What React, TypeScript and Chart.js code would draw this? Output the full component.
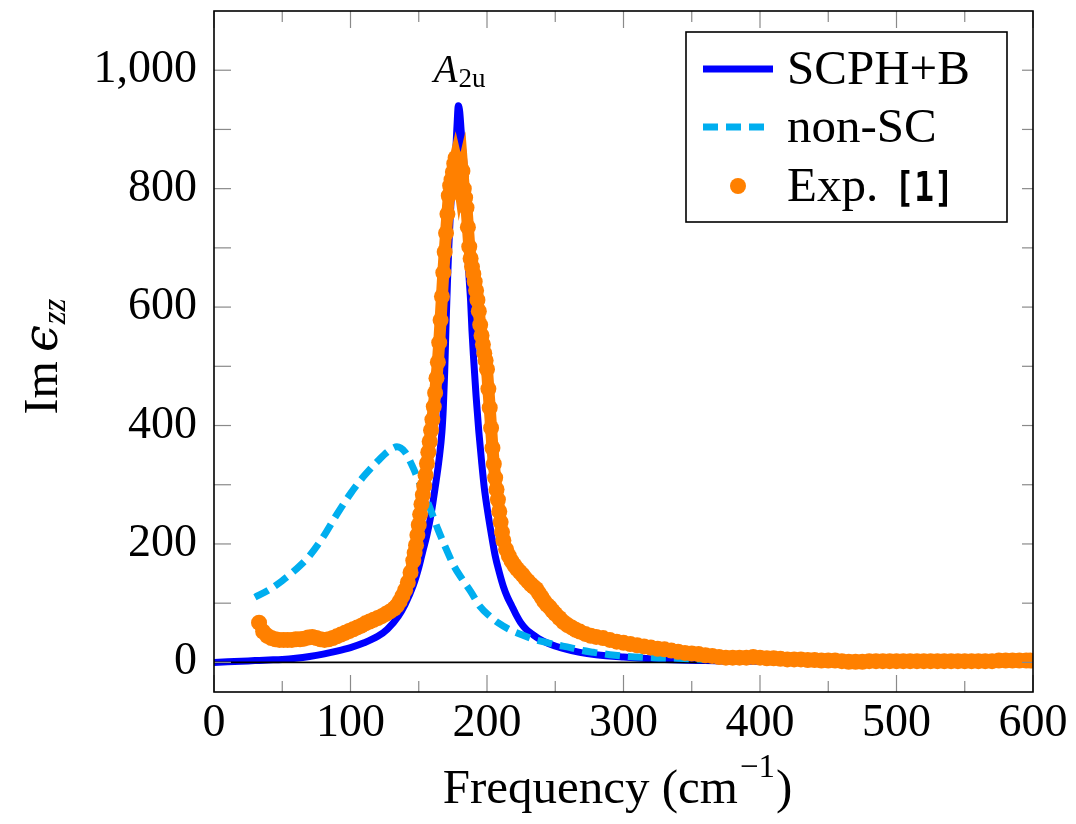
import React, { useEffect, useRef } from 'react';
import { Chart, registerables } from 'chart.js';

Chart.register(...registerables);

// ---------------- data ----------------
const X_TICKS = [0, 100, 200, 300, 400, 500, 600];
const X_MINOR = [50, 150, 250, 350, 450, 550];
const Y_TICKS = [0, 200, 400, 600, 800, 1000];
const Y_MINOR = [100, 300, 500, 700, 900];

const SERIES_NAMES = ['SCPH+B', 'non-SC', 'Exp. '];
const CITE = '[1]';
const PEAK_LABEL_POS = [180, 1000];

const scphX = [0, 10, 20, 30, 40, 50, 60, 70, 80, 90, 100, 110, 120, 127, 135, 140, 146, 150, 153, 156, 159, 162, 165, 167, 168, 169, 170, 171, 172, 173, 174, 175, 176, 177, 178, 179, 180, 181, 182, 183, 184, 185, 186, 187, 188, 189, 190, 191, 192, 193, 194, 196, 198, 200, 203, 206, 209, 212, 215, 218, 221, 225, 229, 233, 238, 245, 255, 268, 280, 300, 320, 340, 360, 380, 400, 450, 500, 550, 600];
const scphY = [0, 1, 2, 3, 4, 5, 7, 10, 14, 19, 25, 33, 44, 56, 78, 98, 130, 160, 188, 215, 250, 295, 345, 390, 430, 490, 570, 640, 700, 750, 790, 815, 835, 860, 905, 940, 930, 900, 870, 845, 790, 735, 685, 645, 610, 560, 520, 485, 450, 420, 390, 340, 295, 262, 219, 180, 152, 128, 110, 96, 82, 66, 55, 48, 40, 32, 24, 17, 13, 9, 6, 4, 3, 2, 2, 1, 1, 1, 1];

const nonscX = [30, 40, 50, 60, 70, 80, 90, 100, 110, 120, 128, 134, 140, 146, 152, 158, 164, 170, 176, 182, 188, 195, 202, 208, 216, 225, 233, 241, 250, 261, 270, 278, 290, 303, 322, 340, 360];
const nonscY = [110, 122, 138, 157, 180, 212, 250, 285, 315, 340, 357, 364, 355, 328, 295, 262, 225, 192, 162, 140, 120, 94, 78, 67, 56, 47, 40, 35, 30, 25, 20, 17, 13, 10, 8, 7, 5];

const expX = [33, 36, 39, 42, 45, 48, 51, 54, 57, 60, 63, 66, 69, 72, 75, 78, 81, 84, 87, 90, 93, 96, 99, 102, 105, 108, 111, 114, 117, 120, 123, 126, 129, 132, 134, 136, 138, 140, 142, 144, 146, 147, 148, 149, 150, 151, 152, 153, 154, 155, 156, 157, 158, 159, 160, 161, 162, 163, 164, 165, 166, 167, 168, 169, 170, 171, 172, 173, 174, 175, 176, 177, 178, 179, 180, 181, 182, 183, 184, 185, 186, 187, 188, 189, 190, 191, 192, 193, 194, 195, 196, 197, 198, 199, 200, 201, 202, 203, 204, 205, 206, 207, 208, 209, 210, 211, 212, 214, 216, 218, 220, 222, 224, 226, 228, 230, 232, 234, 236, 238, 240, 242, 244, 246, 248, 250, 253, 256, 259, 262, 265, 268, 272, 276, 280, 285, 290, 295, 300, 305, 310, 315, 320, 325, 330, 335, 340, 345, 350, 355, 360, 365, 370, 375, 380, 385, 390, 395, 400, 405, 410, 415, 420, 425, 430, 435, 440, 445, 450, 455, 460, 465, 470, 475, 480, 485, 490, 495, 500, 505, 510, 515, 520, 525, 530, 535, 540, 545, 550, 555, 560, 565, 570, 575, 580, 585, 590, 595, 598];
const expY = [67, 52, 45, 41, 39, 38, 38, 38, 38, 39, 39, 40, 42, 43, 41, 39, 38, 39, 41, 44, 47, 50, 53, 56, 59, 62, 66, 69, 72, 75, 78, 82, 86, 91, 96, 103, 112, 122, 135, 152, 172, 185, 198, 215, 232, 250, 267, 283, 298, 316, 336, 355, 373, 392, 410, 432, 455, 480, 507, 540, 578, 618, 658, 693, 725, 757, 788, 805, 815, 828, 842, 852, 842, 825, 808, 820, 830, 800, 785, 768, 735, 702, 682, 668, 656, 643, 628, 612, 593, 570, 552, 537, 522, 510, 495, 462, 430, 396, 362, 335, 312, 292, 275, 255, 237, 220, 206, 191, 180, 171, 164, 158, 153, 148, 142, 137, 132, 128, 124, 117, 110, 103, 97, 93, 87, 82, 75, 68, 63, 59, 55, 52, 48, 45, 43, 41, 38, 35, 33, 31, 29, 27, 25, 23, 22, 20, 18, 16, 15, 14, 12, 11, 9, 8, 8, 8, 8, 9, 8, 7, 7, 6, 5, 5, 5, 4, 4, 3, 3, 3, 2, 1, 1, 1, 2, 2, 2, 2, 2, 2, 2, 2, 2, 2, 2, 2, 2, 2, 2, 2, 2, 2, 2, 3, 3, 3, 3, 3, 3];

const ZERO_X = [0, 600];
const ZERO_Y = [0, 0];

// ---------------- style ----------------
const BLUE = 'rgb(0,0,255)';
const CYAN = 'rgb(0,174,239)';
const ORANGE = 'rgb(255,128,0)';
const SERIF = "'Liberation Serif', 'Times New Roman', serif";
const TICK_GRAY = '#8a8a8a';

const pts = (xs: number[], ys: number[]) => xs.map((x, i) => ({ x, y: ys[i] }));

const decorPlugin = {
  id: 'decor',
  afterDraw(chart: any) {
    const { ctx, chartArea: a, scales } = chart;
    const xs = scales.x;
    const ys = scales.y;
    ctx.save();

    // inward tick marks
    ctx.strokeStyle = TICK_GRAY;
    ctx.lineWidth = 1.2;
    const line = (x1: number, y1: number, x2: number, y2: number) => {
      ctx.beginPath();
      ctx.moveTo(x1, y1);
      ctx.lineTo(x2, y2);
      ctx.stroke();
    };
    X_TICKS.forEach((v) => {
      const p = xs.getPixelForValue(v);
      line(p, a.bottom, p, a.bottom - 17);
      line(p, a.top, p, a.top + 17);
    });
    X_MINOR.forEach((v) => {
      const p = xs.getPixelForValue(v);
      line(p, a.bottom, p, a.bottom - 11);
      line(p, a.top, p, a.top + 11);
    });
    [...Y_TICKS, ...Y_MINOR].forEach((v) => {
      const p = ys.getPixelForValue(v);
      line(a.left, p, a.left + 17, p);
      line(a.right, p, a.right - 11, p);
    });

    // frame
    ctx.strokeStyle = '#000';
    ctx.lineWidth = 1.6;
    ctx.strokeRect(a.left, a.top, a.right - a.left, a.bottom - a.top);

    ctx.fillStyle = '#000';
    ctx.textAlign = 'left';
    ctx.textBaseline = 'alphabetic';

    // peak annotation A_2u
    {
      const cx = xs.getPixelForValue(PEAK_LABEL_POS[0]);
      const by = ys.getPixelForValue(PEAK_LABEL_POS[1]) + 12;
      const fA = `italic 39px ${SERIF}`;
      const fS = `27px ${SERIF}`;
      ctx.font = fA;
      const wA = ctx.measureText('A').width;
      ctx.font = fS;
      const wS = ctx.measureText('2u').width;
      const x0 = cx - (wA + wS + 1) / 2;
      ctx.font = fA;
      ctx.fillText('A', x0, by);
      ctx.font = fS;
      ctx.fillText('2u', x0 + wA + 1, by + 5);
    }

    // x axis title
    {
      const big = `49px ${SERIF}`;
      const small = `33px ${SERIF}`;
      ctx.font = big;
      const t1 = 'Frequency (cm';
      const w1 = ctx.measureText(t1).width;
      const w3 = ctx.measureText(')').width;
      ctx.font = small;
      const w2 = ctx.measureText('\u22121').width;
      const total = w1 + w2 + w3 + 3;
      const x0 = (a.left + a.right) / 2 - 6 - total / 2;
      const by = 803;
      ctx.font = big;
      ctx.fillText(t1, x0, by);
      ctx.font = small;
      ctx.fillText('\u22121', x0 + w1 + 2, by - 26);
      ctx.font = big;
      ctx.fillText(')', x0 + w1 + w2 + 3, by);
    }

    // y axis title: Im ϵ_zz (rotated)
    {
      ctx.save();
      ctx.translate(57, (a.top + a.bottom) / 2 + 5);
      ctx.rotate(-Math.PI / 2);
      const f1 = `48px ${SERIF}`;
      const f2 = `italic 48px 'DejaVu Serif', ${SERIF}`;
      const f3 = `italic 33px ${SERIF}`;
      ctx.font = f1;
      const wIm = ctx.measureText('Im').width;
      ctx.font = f2;
      const wE = ctx.measureText('\u03F5').width;
      ctx.font = f3;
      const wZ = ctx.measureText('zz').width;
      const gap = 9;
      const total = wIm + gap + wE + wZ + 1;
      let x = -total / 2;
      ctx.font = f1;
      ctx.fillText('Im', x, 0);
      x += wIm + gap;
      ctx.font = f2;
      ctx.fillText('\u03F5', x, 0);
      x += wE + 1;
      ctx.font = f3;
      ctx.fillText('zz', x, 8);
      ctx.restore();
    }

    // legend
    {
      const lx = a.right - 347;
      const ly = a.top + 21;
      const lw = 321;
      const lh = 190;
      ctx.fillStyle = '#fff';
      ctx.fillRect(lx, ly, lw, lh);
      ctx.strokeStyle = '#000';
      ctx.lineWidth = 1.6;
      ctx.strokeRect(lx, ly, lw, lh);

      const rows = [ly + 37, ly + 95, ly + 154];
      const sx1 = lx + 17;
      const sx2 = lx + 87;
      // SCPH+B
      ctx.strokeStyle = BLUE;
      ctx.lineWidth = 7;
      ctx.lineCap = 'butt';
      ctx.beginPath();
      ctx.moveTo(sx1, rows[0]);
      ctx.lineTo(sx2, rows[0]);
      ctx.stroke();
      // non-SC
      ctx.strokeStyle = CYAN;
      ctx.setLineDash([15, 8]);
      ctx.beginPath();
      ctx.moveTo(sx1, rows[1]);
      ctx.lineTo(sx2 - 8, rows[1]);
      ctx.stroke();
      ctx.setLineDash([]);
      // Exp
      ctx.fillStyle = ORANGE;
      ctx.beginPath();
      ctx.arc((sx1 + sx2) / 2, rows[2], 8, 0, Math.PI * 2);
      ctx.fill();

      ctx.fillStyle = '#000';
      ctx.font = `49px ${SERIF}`;
      const tx = lx + 101;
      ctx.fillText(SERIES_NAMES[0], tx, rows[0] + 15);
      ctx.fillText(SERIES_NAMES[1], tx, rows[1] + 15);
      ctx.fillText(SERIES_NAMES[2], tx, rows[2] + 15);
      const we = ctx.measureText(SERIES_NAMES[2]).width;
      ctx.save();
      ctx.translate(tx + we + 4, rows[2] + 15);
      ctx.scale(0.82, 1);
      ctx.font = `bold 40px 'DejaVu Sans Mono', monospace`;
      ctx.fillText(CITE, 0, 0);
      ctx.restore();
    }

    ctx.restore();
  },
};

export default function App() {
  const canvasRef = useRef<HTMLCanvasElement | null>(null);

  useEffect(() => {
    document.body.style.margin = '0';
    const canvas = canvasRef.current;
    if (!canvas) return;

    const chart = new Chart(canvas, {
      type: 'line',
      data: {
        datasets: [
          {
            label: SERIES_NAMES[2],
            data: pts(expX, expY),
            borderColor: ORANGE,
            backgroundColor: ORANGE,
            borderWidth: 12,
            showLine: true,
            pointRadius: 8,
            pointHoverRadius: 8,
            pointBorderWidth: 0,
            pointBackgroundColor: ORANGE,
            tension: 0,
            order: 0,
          },
          {
            label: SERIES_NAMES[1],
            data: pts(nonscX, nonscY),
            borderColor: CYAN,
            borderWidth: 7,
            borderDash: [15, 8],
            borderCapStyle: 'butt',
            pointRadius: 0,
            cubicInterpolationMode: 'monotone',
            order: 1,
          },
          {
            label: 'zero',
            data: pts(ZERO_X, ZERO_Y),
            borderColor: '#000',
            borderWidth: 1.6,
            pointRadius: 0,
            order: 2,
          },
          {
            label: SERIES_NAMES[0],
            data: pts(scphX, scphY),
            borderColor: BLUE,
            borderWidth: 7,
            pointRadius: 0,
            cubicInterpolationMode: 'monotone',
            order: 3,
          },
        ],
      },
      options: {
        responsive: false,
        animation: false,
        devicePixelRatio: 1,
        events: [],
        layout: { padding: { left: 0, top: 11, right: 43, bottom: 0 } },
        plugins: {
          legend: { display: false },
          tooltip: { enabled: false },
        },
        scales: {
          x: {
            type: 'linear',
            position: 'bottom',
            min: 0,
            max: 600,
            grid: { display: false, drawTicks: false },
            border: { display: false },
            afterBuildTicks: (s: any) => {
              s.ticks = X_TICKS.map((v) => ({ value: v }));
            },
            afterFit: (s: any) => {
              s.height = 132;
              s.paddingLeft = 0;
              s.paddingRight = 0;
            },
            ticks: {
              color: '#000',
              font: { family: SERIF, size: 46, lineHeight: 1 },
              padding: 9,
              maxRotation: 0,
              autoSkip: false,
              callback: (v: any) => String(v),
            },
          },
          y: {
            type: 'linear',
            position: 'left',
            min: -50,
            max: 1100,
            grid: { display: false, drawTicks: false },
            border: { display: false },
            afterBuildTicks: (s: any) => {
              s.ticks = Y_TICKS.map((v) => ({ value: v }));
            },
            afterFit: (s: any) => {
              s.width = 214;
              s.paddingTop = 0;
              s.paddingBottom = 0;
            },
            ticks: {
              color: '#000',
              font: { family: SERIF, size: 46, lineHeight: 1 },
              padding: 17,
              autoSkip: false,
              callback: (v: any) => Number(v).toLocaleString('en-US'),
            },
          },
        },
      },
      plugins: [decorPlugin],
    } as any);

    return () => chart.destroy();
  }, []);

  return (
    <div style={{ width: 1076, height: 824 }}>
      <canvas ref={canvasRef} width={1076} height={824} style={{ display: 'block' }} />
    </div>
  );
}
